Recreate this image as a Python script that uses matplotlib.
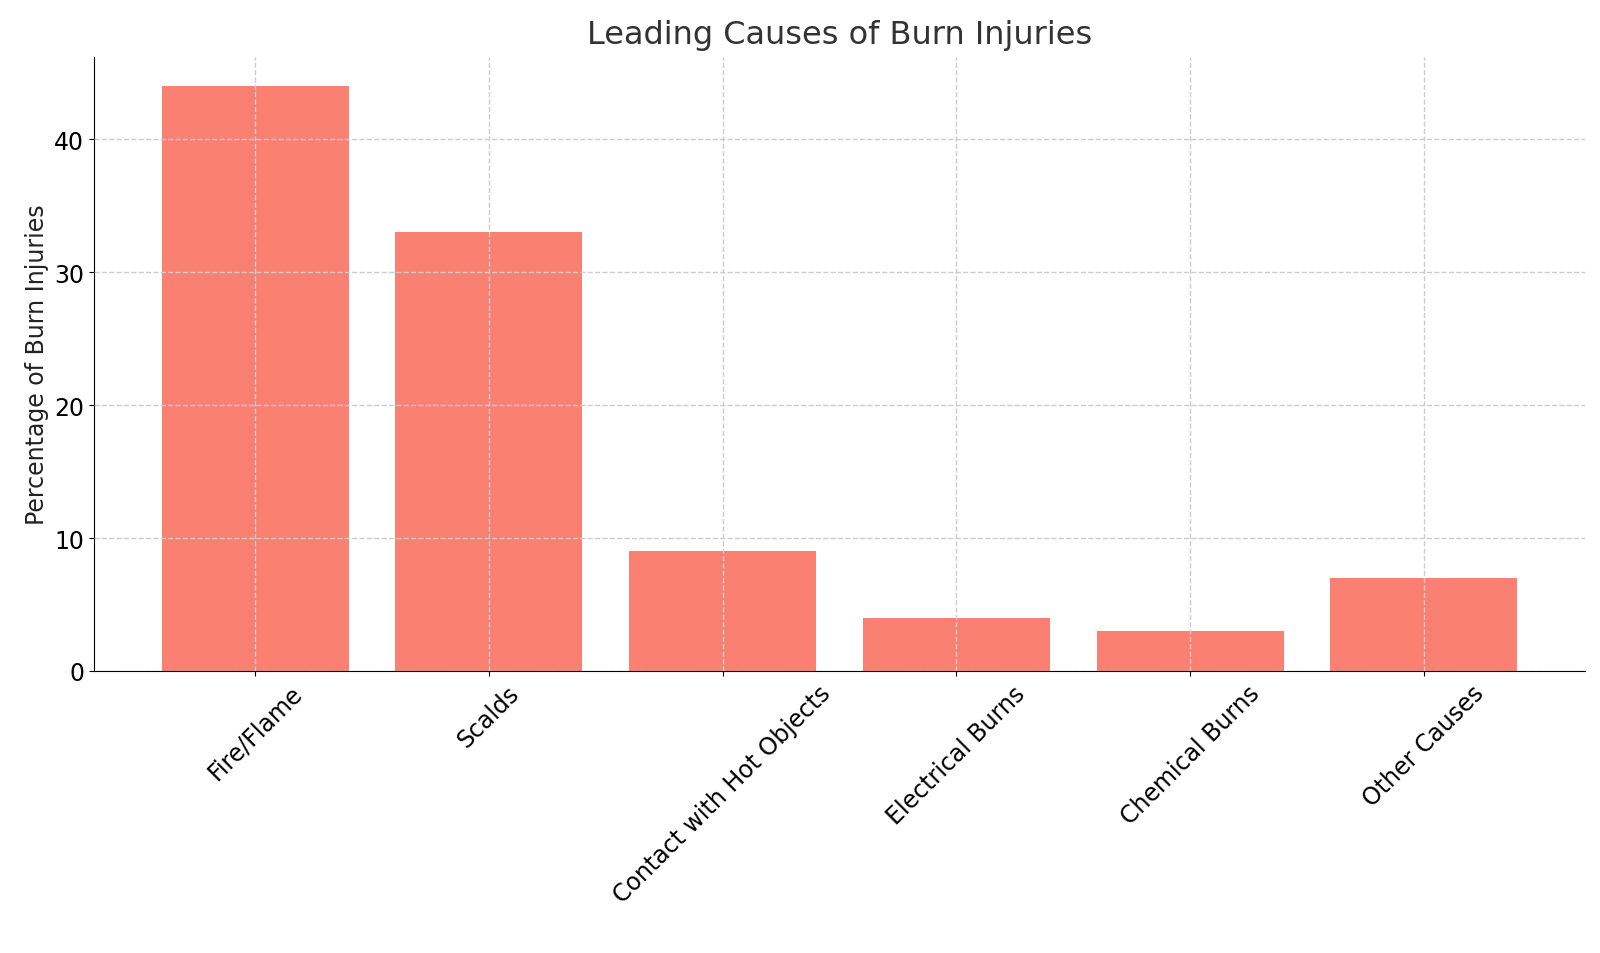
import matplotlib
matplotlib.use("Agg")
import matplotlib.pyplot as plt

categories = ["Fire/Flame", "Scalds", "Contact with Hot Objects", "Electrical Burns", "Chemical Burns", "Other Causes"]
values = [44, 33, 9, 4, 3, 7]

fig = plt.figure(figsize=(16, 9.54), dpi=100)
ax = fig.add_axes([94/1600, 1-672/954, (1585-94)/1600, (672-58)/954])
ax.bar(categories, values, color="salmon", zorder=2)
ax.grid(True, linestyle="--", color="#cccccc", linewidth=1, zorder=0)
ax.set_axisbelow(False)
for s in ["top", "right"]:
    ax.spines[s].set_visible(False)
ax.set_ylabel("Percentage of Burn Injuries", fontsize=17, color="#222222")
ax.set_title("Leading Causes of Burn Injuries", fontsize=23, color="#333333", pad=10)
ax.tick_params(labelsize=17)
plt.setp(ax.get_xticklabels(), rotation=45, ha="center", rotation_mode="default")
ax.set_ylim(0, 46.2)
fig.savefig("out.png", dpi=100)
